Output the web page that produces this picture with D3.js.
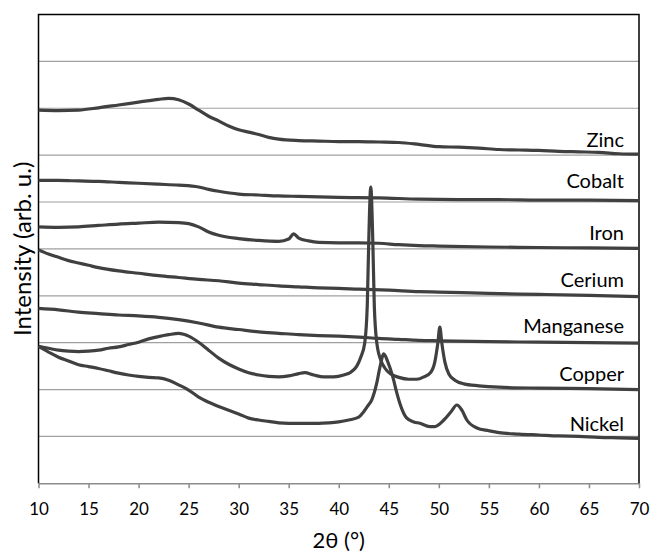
<!DOCTYPE html>
<html>
<head>
<meta charset="utf-8">
<script src="https://cdn.jsdelivr.net/npm/d3@7/dist/d3.min.js"></script>
<style>
  html, body { margin: 0; padding: 0; background: #fff; }
  svg { display: block; }
  text { font-family: Lato, "Open Sans", sans-serif; fill: #000; }
</style>
</head>
<body>
<svg id="chart" width="650" height="552"></svg>
<script>
// ---- data (2θ in degrees, intensity in arbitrary units, stacked offsets as in the original) ----
const seriesNames = ["Zinc", "Cobalt", "Iron", "Cerium", "Manganese", "Copper", "Nickel"];

const zinc = [[10,796],[12,795],[14,796],[16,801],[18,807],[20,813],[22,819],[23,821],[24,818],[25,809],[26,796],[27,783],[28,773],[29,762],[30,754],[31,749],[32,744],[33,738],[34,734],[36,731],[38,730],[40,729],[42,729],[44,728],[46,727],[48,723],[50,718],[52,717],[54,715],[56,712],[58,711],[60,710],[62,708],[64,707],[66,706],[68,703],[70,702]];

const cobalt = [[10,646],[12,646],[14,645],[16,644],[18,642],[20,640],[22,638],[24,636],[26,632],[27,627],[28,623],[30,617],[32,615],[34,613],[36,612],[38,611],[40,610],[44,609],[48,606],[52,605],[56,605],[60,604],[64,604],[70,603]];

const iron = [[10,547],[12,546],[14,547],[16,550],[18,553],[20,555],[22,557],[24,556],[25,554],[26,547],[27,536],[28,529],[30,522],[32,518],[34,516],[35,521],[35.5,532],[36,523],[37,517],[38,514],[40,513],[42,513],[44,512],[46,509],[48,507],[50,506],[55,504],[60,503],[65,502],[70,501]];

const cerium = [[10,498],[11,489],[12,482],[13,475],[14,470],[15,465],[16,460],[18,453],[20,448],[22,443],[24,439],[26,435],[28,432],[30,427],[32,424],[34,421],[36,419],[38,417],[40,416],[42,414],[45,412],[48,409],[50,408],[55,405],[60,403],[65,401],[70,398]];

const manganese = [[10,373],[12,370],[14,365],[16,362],[18,359],[20,357],[22,354],[24,349],[26,342],[28,333],[30,328],[32,323],[34,320],[36,317],[38,315],[40,314],[42,312],[44,309],[46,307],[48,305],[50,304],[55,302],[60,301],[65,300],[70,299]];

const copper = [[10,292],[11,288],[12,284],[13,282],[14,281],[15,282],[16,284],[17,288],[18,291],[19,296],[20,301],[21,308],[22,313],[23,317],[24,320],[24.5,318],[25,314],[26,301],[27,284],[28,267],[29,254],[30,244],[31,236],[32,231],[33,228],[34,227],[35,229],[36,234],[36.6,236],[37.5,231],[38.5,227],[39.5,227],[40.5,231],[41.2,237],[41.8,250],[42.2,269],[42.6,300],[42.85,380],[43.0,519],[43.2,632],[43.4,519],[43.55,380],[43.8,300],[44.2,263],[44.6,246],[45.2,233],[46,226],[47,222],[47.8,222],[48.5,227],[49.2,237],[49.6,259],[49.9,299],[50.1,333],[50.3,299],[50.6,259],[51,233],[51.6,220],[52.5,212],[54,208],[56,205],[60,203],[65,202],[70,200]];

const nickel = [[10,292],[11,280],[12,269],[13,261],[14,253],[15,249],[16,245],[17,240],[18,235],[19,231],[20,228],[21,226],[22,225],[23,220],[24,210],[25,199],[26,184],[27,173],[28,164],[29,156],[30,148],[31,139],[32,135],[33,132],[34,129],[35,128],[36,128],[37,128],[38,128],[39,129],[40,131],[41,135],[42,141],[42.4,150],[42.9,165],[43.3,178],[43.8,214],[44.1,246],[44.5,276],[44.9,259],[45.4,227],[45.8,193],[46.1,171],[46.8,139],[47.5,131],[48.1,128],[49.1,121],[49.6,121],[50.5,135],[51.2,152],[51.8,167],[52.3,156],[52.8,135],[53.8,118],[55,112],[56,108],[58,105],[60,103],[62,101],[64,100],[66,98],[68,97],[70,96]];

const seriesData = [zinc, cobalt, iron, cerium, manganese, copper, nickel];
// label anchors (data units) for the right-aligned series names
const labelX = 68.5;
const labelY = [718, 630, 519, 419, 320, 218, 112];

const xTicks = [10, 15, 20, 25, 30, 35, 40, 45, 50, 55, 60, 65, 70];
const yGrid = [100, 200, 300, 400, 500, 600, 700, 800, 900];
const xTitle = "2θ (°)";
const yTitle = "Intensity (arb. u.)";

// ---- layout ----
const svg = d3.select("#chart");
const L = 38.5, T = 14.5, R = 639, B = 483.3;

const x = d3.scaleLinear().domain([10, 70]).range([L, R]);
const y = d3.scaleLinear().domain([0, 1000]).range([B, T]);

// gridlines
svg.append("g")
  .selectAll("line")
  .data(yGrid)
  .join("line")
  .attr("x1", L).attr("x2", R)
  .attr("y1", d => y(d)).attr("y2", d => y(d))
  .attr("stroke", "#a0a0a0")
  .attr("stroke-width", 1.2);

// x axis
const xAxis = d3.axisBottom(x).tickValues(xTicks).tickSize(5).tickSizeOuter(0).tickPadding(15);
const gx = svg.append("g").attr("transform", `translate(0,${B})`).call(xAxis);
gx.select(".domain").attr("stroke", "#8c8c8c").attr("stroke-width", 1.5);
gx.selectAll(".tick line").attr("stroke", "#8c8c8c").attr("stroke-width", 1.5);
gx.selectAll(".tick text").attr("font-size", 17).attr("font-family", "Lato, sans-serif").attr("fill", "#000");

// frame: top, left, right
svg.append("path")
  .attr("d", `M${L},${B} V${T} H${R} V${B}`)
  .attr("fill", "none")
  .attr("stroke", "#000")
  .attr("stroke-width", 1.5);

// series
const line = d3.line()
  .x(d => x(d[0]))
  .y(d => y(d[1]))
  .curve(d3.curveMonotoneX);

svg.append("g")
  .selectAll("path")
  .data(seriesData)
  .join("path")
  .attr("d", line)
  .attr("fill", "none")
  .attr("stroke", "#404040")
  .attr("stroke-width", 3.2)
  .attr("stroke-linejoin", "round");

// series labels
svg.append("g")
  .selectAll("text")
  .data(seriesNames)
  .join("text")
  .attr("x", x(labelX))
  .attr("y", (d, i) => y(labelY[i]))
  .attr("text-anchor", "end")
  .attr("font-size", 20)
  .text(d => d);

// axis titles
svg.append("text")
  .attr("x", (L + R) / 2)
  .attr("y", 548)
  .attr("text-anchor", "middle")
  .attr("font-size", 22)
  .text(xTitle);

svg.append("text")
  .attr("transform", `translate(31,${(T + B) / 2}) rotate(-90)`)
  .attr("text-anchor", "middle")
  .attr("font-size", 24)
  .text(yTitle);
</script>
</body>
</html>
